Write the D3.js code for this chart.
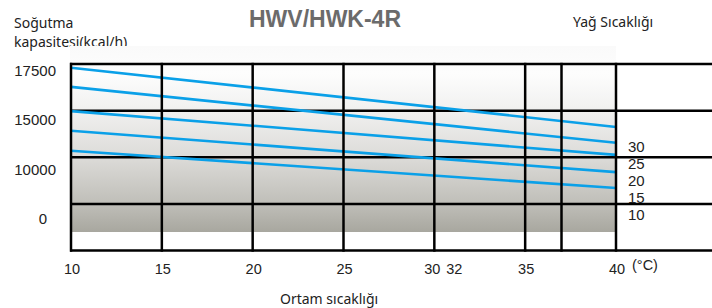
<!DOCTYPE html>
<html>
<head>
<meta charset="utf-8">
<script src="https://cdn.jsdelivr.net/npm/d3@7"></script>
<style>
  body { margin: 0; background: #fff; }
  svg { display: block; }
  .num { font-family: "Liberation Sans", Arial, sans-serif; fill: #222; }
  .cap { font-family: "Noto Sans", sans-serif; font-size: 14px; fill: #222; }
</style>
</head>
<body>
<svg width="712" height="308"></svg>
<script>
// ambient temperature (x), oil temperature curves, capacity in kcal/h
var xGrid = [10, 15, 20, 25, 30, 35, 37, 40];
var xTickLabels = [10, 15, 20, 25, 30, 35, 40];
var yGrid = [0, 5000, 10000, 15000, 20000];
var yTickLabels = ["17500", "15000", "10000", "0"];
var oilTemps = [30, 25, 20, 15, 10];
var ambient = [10, 40];
var capacity = [
  [19600, 13250],
  [17550, 11550],
  [14950, 10250],
  [12850, 8400],
  [10700, 6700]
];

var svg = d3.select("svg"),
    width = +svg.attr("width");

var x = d3.scaleLinear().domain([10, 40]).range([71, 616]),
    y = d3.scaleLinear().domain([0, 20000]).range([250.5, 64]),
    yLab = d3.scalePoint().domain(yTickLabels).range([70.7, 219]),
    oilLab = d3.scalePoint().domain(oilTemps).range([146.7, 214.3]);

// titles (drawn before the shaded box, which covers part of them like the original)
svg.append("text").attr("class", "cap").attr("x", 14).attr("y", 28).text("Soğutma");
svg.append("text").attr("class", "cap").attr("x", 14).attr("y", 47).text("kapasitesi(kcal/h)");
svg.append("text").attr("class", "cap").attr("x", 573).attr("y", 27).text("Yağ Sıcaklığı");
svg.append("text")
    .attr("x", 325).attr("y", 27)
    .attr("text-anchor", "middle")
    .style("font-family", "'Liberation Sans', Arial, sans-serif")
    .style("font-weight", "bold")
    .style("font-size", "23px")
    .style("fill", "#6b6b6b")
    .text("HWV/HWK-4R");

var grad = svg.append("defs").append("linearGradient")
    .attr("id", "shade").attr("x1", 0).attr("y1", 0).attr("x2", 0).attr("y2", 1);
[[0, "#fafafa"], [0.15, "#fdfdfd"], [0.35, "#f0f0ef"], [0.6, "#dcdbd8"], [0.85, "#bfbeb8"], [1, "#a8a79f"]]
  .forEach(function(s) {
    grad.append("stop").attr("offset", s[0]).attr("stop-color", s[1]);
  });

svg.append("rect")
    .attr("x", x(10) - 1).attr("y", 46)
    .attr("width", x(40) - x(10) + 1)
    .attr("height", 232 - 46)
    .style("fill", "url(#shade)");

// horizontal grid
svg.append("g").selectAll("line")
  .data(yGrid)
  .enter().append("line")
    .attr("x1", x(10) - 1).attr("x2", width)
    .attr("y1", function(d) { return y(d); })
    .attr("y2", function(d) { return y(d); })
    .style("stroke", "#000").style("stroke-width", 2.5);

// oil temperature lines
var line = d3.line()
    .x(function(d, i) { return x(ambient[i]); })
    .y(function(d) { return y(d); });

svg.append("g").selectAll("path")
  .data(capacity)
  .enter().append("path")
    .attr("d", line)
    .style("fill", "none")
    .style("stroke", "#0aa0e8")
    .style("stroke-width", 2.6);

// vertical grid
svg.append("g").selectAll("line")
  .data(xGrid)
  .enter().append("line")
    .attr("x1", function(d) { return x(d); })
    .attr("x2", function(d) { return x(d); })
    .attr("y1", y(20000) - 1.2).attr("y2", y(0) + 1.2)
    .style("stroke", "#000").style("stroke-width", 2.5);

// y labels
svg.append("g").selectAll("text")
  .data(yTickLabels)
  .enter().append("text")
    .attr("class", "num")
    .attr("x", 56)
    .attr("dx", function(d) { return d === "0" ? -9 : 0; })
    .attr("y", function(d) { return yLab(d); })
    .attr("dy", "0.35em")
    .attr("text-anchor", "end")
    .style("font-size", "15px")
    .text(function(d) { return d; });

// x labels
svg.append("g").selectAll("text")
  .data(xTickLabels)
  .enter().append("text")
    .attr("class", "num")
    .attr("x", function(d) { return x(d); })
    .attr("dx", function(d) { return d === 30 ? -2 : 1; })
    .attr("y", 274)
    .attr("text-anchor", "middle")
    .style("font-size", "14.5px")
    .text(function(d) { return d; });

svg.append("text").attr("class", "num")
    .attr("x", x(30) + 20).attr("y", 274)
    .attr("text-anchor", "middle")
    .style("font-size", "14.5px")
    .text("32");

svg.append("text").attr("class", "num")
    .attr("x", x(40) + 16).attr("y", 270)
    .style("font-size", "14.5px")
    .text("(°C)");

// oil temperature labels
svg.append("g").selectAll("text")
  .data(oilTemps)
  .enter().append("text")
    .attr("class", "num")
    .attr("x", 628)
    .attr("y", function(d) { return oilLab(d); })
    .attr("dy", "0.35em")
    .style("font-size", "15px")
    .text(function(d) { return d; });

svg.append("text").attr("class", "cap")
    .attr("x", 280).attr("y", 304)
    .text("Ortam sıcaklığı");
</script>
</body>
</html>
